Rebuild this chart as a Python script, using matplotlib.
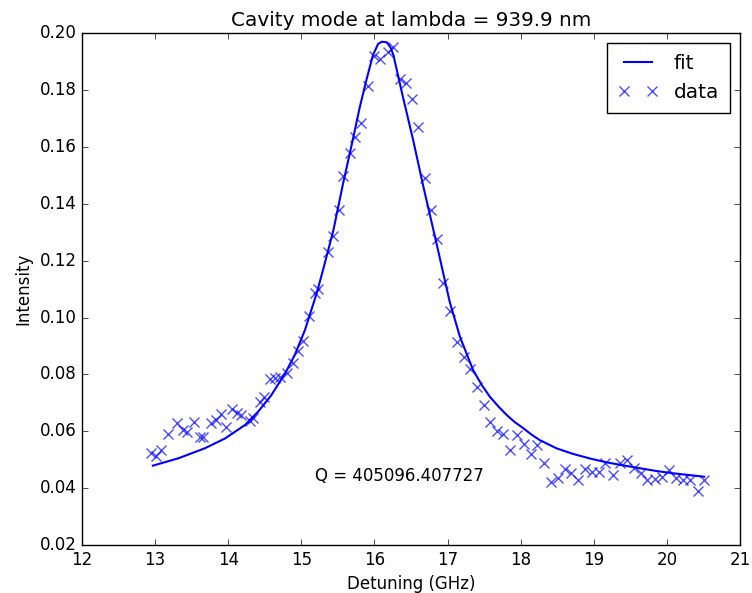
import matplotlib
matplotlib.use("Agg")
import matplotlib.pyplot as plt
import numpy as np

plt.style.use("classic")

# measured points (GHz, intensity)
det = [12.95, 13.01, 13.08, 13.18, 13.30, 13.38, 13.43, 13.53, 13.62, 13.66,
       13.77, 13.83, 13.90, 13.97, 14.05, 14.12, 14.18, 14.30, 14.34, 14.43,
       14.49, 14.57, 14.64, 14.71, 14.80, 14.88, 14.96, 15.03, 15.11, 15.19,
       15.23, 15.37, 15.43, 15.51, 15.57, 15.66, 15.73, 15.82, 15.91, 16.00,
       16.08, 16.18, 16.26, 16.35, 16.43, 16.52, 16.60, 16.69, 16.78, 16.85,
       16.94, 17.04, 17.13, 17.22, 17.31, 17.40, 17.50, 17.58, 17.68, 17.76,
       17.86, 17.95, 18.05, 18.14, 18.23, 18.32, 18.42, 18.51, 18.60, 18.69,
       18.79, 18.88, 18.97, 19.07, 19.16, 19.27, 19.36, 19.45, 19.55, 19.64,
       19.73, 19.84, 19.93, 20.03, 20.12, 20.22, 20.32, 20.42, 20.51]
inten = [0.0525, 0.0514, 0.0534, 0.0590, 0.0630, 0.0605, 0.0598, 0.0634, 0.0581, 0.0580,
         0.0628, 0.0640, 0.0661, 0.0616, 0.0677, 0.0665, 0.0657, 0.0637, 0.0645, 0.0704,
         0.0719, 0.0783, 0.0788, 0.0792, 0.0806, 0.0839, 0.0883, 0.0918, 0.1005, 0.1085,
         0.1100, 0.1230, 0.1286, 0.1378, 0.1499, 0.1580, 0.1636, 0.1683, 0.1814, 0.1920,
         0.1909, 0.1935, 0.1950, 0.1840, 0.1826, 0.1768, 0.1670, 0.1490, 0.1378, 0.1275,
         0.1120, 0.1024, 0.0915, 0.0860, 0.0818, 0.0755, 0.0692, 0.0634, 0.0602, 0.0589,
         0.0534, 0.0587, 0.0555, 0.0519, 0.0552, 0.0489, 0.0423, 0.0435, 0.0466, 0.0454,
         0.0429, 0.0466, 0.0458, 0.0458, 0.0490, 0.0446, 0.0487, 0.0499, 0.0470, 0.0452,
         0.0429, 0.0431, 0.0440, 0.0464, 0.0435, 0.0429, 0.0429, 0.0390, 0.0429]

# fitted curve
fit_x = [12.97, 13.32, 13.68, 13.96, 14.23, 14.41, 14.59, 14.78, 14.91, 15.05,
         15.21, 15.30, 15.44, 15.57, 15.70, 15.80, 15.89, 15.98, 16.05, 16.10,
         16.17, 16.22, 16.26, 16.39, 16.53, 16.67, 16.85, 17.03, 17.17, 17.35,
         17.47, 17.58, 17.70, 17.81, 17.92, 18.04, 18.15, 18.26, 18.49, 18.72,
         18.95, 19.17, 19.40, 19.63, 19.86, 20.09, 20.30, 20.51]
fit_y = [0.0479, 0.0505, 0.0540, 0.0575, 0.0622, 0.0669, 0.0727, 0.0804, 0.0868, 0.0956,
         0.1085, 0.1170, 0.1308, 0.1470, 0.1620, 0.1740, 0.1835, 0.1923, 0.1962, 0.1970,
         0.1968, 0.1950, 0.1923, 0.1776, 0.1624, 0.1460, 0.1260, 0.1055, 0.0932, 0.0815,
         0.0762, 0.0721, 0.0686, 0.0657, 0.0632, 0.0610, 0.0588, 0.0569, 0.0540, 0.0520,
         0.0504, 0.0491, 0.0480, 0.0470, 0.0460, 0.0452, 0.0446, 0.0440]

q_value = 405096.407727

fig = plt.figure(figsize=(7.52, 5.93), dpi=100, facecolor="w")
ax = fig.add_axes([0.109, 0.081, 0.875, 0.863])

ax.plot(fit_x, fit_y, "b-", lw=1.5, label="fit")
ax.plot(det, inten, "bx", ms=6.5, mew=1, alpha=0.7, label="data")

ax.set_xlim(12, 21)
ax.set_ylim(0.02, 0.20)
ax.set_yticks(np.arange(0.02, 0.2001, 0.02))
ax.yaxis.set_major_formatter(matplotlib.ticker.FormatStrFormatter("%.2f"))
ax.set_xlabel("Detuning (GHz)")
ax.set_ylabel("Intensity")
ax.set_title("Cavity mode at lambda = 939.9 nm")
ax.text(15.19, 0.0443, "Q = %f" % q_value, fontsize=12, va="center")

ax.legend(loc="upper right", numpoints=2, fancybox=False,
          borderpad=0.55, labelspacing=0.5)

fig.savefig("out.png", dpi=100, facecolor="w")
